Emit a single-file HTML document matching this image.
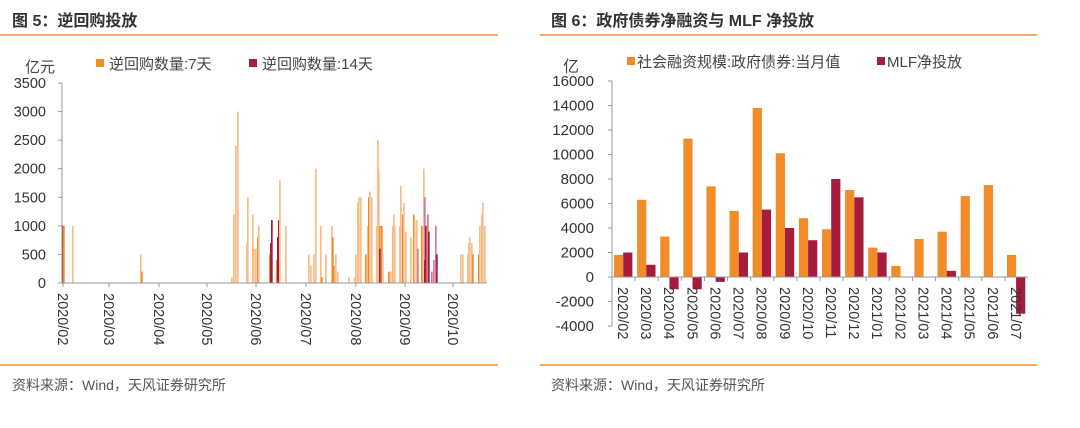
<!DOCTYPE html>
<html><head><meta charset="utf-8"><style>
body{margin:0;background:#fff;width:1080px;height:423px;overflow:hidden}
svg text{font-family:"Liberation Sans","Noto Sans CJK SC",sans-serif}
</style></head><body>
<svg id="s" width="1080" height="423" xmlns="http://www.w3.org/2000/svg">
<text x="12" y="26" font-size="16" font-weight="bold" fill="#333">图 5：逆回购投放</text>
<text x="551" y="26" font-size="16" font-weight="bold" fill="#333">图 6：政府债券净融资与 MLF 净投放</text>
<line x1="0" y1="35" x2="498" y2="35" stroke="#f28c28" stroke-width="1.5"/>
<line x1="540" y1="35" x2="1037" y2="35" stroke="#f28c28" stroke-width="1.5"/>
<line x1="0" y1="365" x2="498" y2="365" stroke="#f28c28" stroke-width="1.5"/>
<line x1="540" y1="365" x2="1037" y2="365" stroke="#f28c28" stroke-width="1.5"/>
<text x="12" y="390" font-size="14" fill="#555">资料来源：Wind，天风证券研究所</text>
<text x="551" y="390" font-size="14" fill="#555">资料来源：Wind，天风证券研究所</text>
<text x="25" y="72" font-size="15" fill="#444">亿元</text>
<rect x="96" y="59" width="8" height="8" fill="#f28c28"/>
<text x="109" y="69" font-size="15" fill="#444">逆回购数量:7天</text>
<rect x="249" y="59" width="8" height="8" fill="#a51c3c"/>
<text x="262" y="69" font-size="15" fill="#444">逆回购数量:14天</text>
<text x="563" y="72" font-size="16" fill="#444">亿</text>
<rect x="627" y="57" width="8" height="8" fill="#f28c28"/>
<text x="637" y="67" font-size="15" fill="#444">社会融资规模:政府债券:当月值</text>
<rect x="877" y="57" width="8" height="8" fill="#a51c3c"/>
<text x="887" y="67" font-size="15" fill="#444">MLF净投放</text>
<g id="L"></g><g id="R"></g>
</svg>
<script>
const ns="http://www.w3.org/2000/svg";
function el(p,t,a,txt){const e=document.createElementNS(ns,t);for(const k in a)e.setAttribute(k,a[k]);if(txt!==undefined)e.textContent=txt;p.appendChild(e);return e;}
const L=document.getElementById('L'),R=document.getElementById('R');
const y0=283,sc=200/3500;
for(let v=0;v<=3500;v+=500){const y=y0-v*sc;el(L,'text',{x:46,y:y+5,'font-size':14.5,fill:'#333','text-anchor':'end'},v);el(L,'line',{x1:58,x2:62,y1:y,y2:y,stroke:'#999'});}
const bars=[[62,1000,'r'],[63,1000,'o'],[72,1000,'l'],[140,500,'l'],[141,200,'o'],[231,100,'l'],[233,1200,'l'],[235,2400,'l'],[237,3000,'l'],[246,700,'l'],[247,1500,'l'],[252,1200,'l'],[253,600,'l'],[255,600,'l'],[257,800,'o'],[258,1000,'l'],[269,500,'o'],[270,700,'r'],[271,1100,'r'],[276,400,'o'],[277,800,'r'],[278,1100,'r'],[279,1800,'l'],[285,1000,'l'],[308,500,'l'],[310,300,'l'],[313,500,'l'],[315,2000,'l'],[320,1000,'l'],[321,100,'o'],[325,500,'l'],[331,1000,'l'],[332,800,'o'],[333,300,'o'],[335,500,'l'],[337,200,'l'],[348,100,'l'],[354,100,'l'],[355,500,'l'],[357,1400,'l'],[358,1500,'l'],[360,1500,'l'],[365,500,'o'],[367,1000,'l'],[368,1500,'o'],[369,1600,'l'],[371,1500,'l'],[376,1000,'l'],[377,2500,'l'],[378,2000,'l'],[379,1000,'o'],[379,600,'r'],[381,1000,'o'],[382,500,'l'],[388,200,'o'],[390,200,'l'],[392,1000,'l'],[393,1200,'l'],[394,1000,'l'],[399,1000,'l'],[400,1700,'l'],[402,1200,'o'],[403,1400,'l'],[405,900,'l'],[410,800,'l'],[413,1200,'o'],[414,1100,'l'],[416,1100,'l'],[417,600,'p'],[421,1000,'o'],[423,2000,'l'],[424,1500,'p'],[424,400,'r'],[425,1000,'r'],[427,1200,'p'],[428,900,'r'],[431,200,'p'],[433,400,'p'],[435,1000,'p'],[436,500,'r'],[460,500,'l'],[462,500,'l'],[467,500,'l'],[468,700,'l'],[469,800,'l'],[471,700,'l'],[472,500,'o'],[478,500,'o'],[479,1000,'l'],[481,1200,'l'],[482,1400,'l'],[484,1000,'l']];
const col={l:'#f9bd8c',o:'#f28c28',r:'#a51c3c',p:'#d27b95'};
bars.forEach(b=>el(L,'rect',{x:b[0],y:y0-b[1]*sc,width:1.7,height:b[1]*sc,fill:col[b[2]]}));
el(L,'line',{x1:62,x2:62,y1:83,y2:283,stroke:'#999'});
el(L,'line',{x1:62,x2:487,y1:283,y2:283,stroke:'#999'});
const mx=[63,109,159,207,256,306,356,405,453],ml=['2020/02','2020/03','2020/04','2020/05','2020/06','2020/07','2020/08','2020/09','2020/10'];
mx.forEach((x,i)=>{el(L,'line',{x1:x,x2:x,y1:283,y2:287,stroke:'#999'});el(L,'text',{x:0,y:0,'font-size':14.5,fill:'#333',transform:`translate(${x-5},293) rotate(90)`},ml[i]);});
const ry0=277,rs=49/4000,xl=612,xr=1028,cw=(xr-xl)/18;
for(let v=-4000;v<=16000;v+=2000){const y=ry0-v*rs;el(R,'text',{x:594,y:y+5,'font-size':15,fill:'#333','text-anchor':'end'},v);el(R,'line',{x1:608,x2:612,y1:y,y2:y,stroke:'#999'});}
const o=[1800,6300,3300,11300,7400,5400,13800,10100,4800,3900,7100,2400,900,3100,3700,6600,7500,1800];
const r=[2000,1000,-1000,-1000,-400,2000,5500,4000,3000,8000,6500,2000,0,0,500,0,0,-3000];
const rl=['2020/02','2020/03','2020/04','2020/05','2020/06','2020/07','2020/08','2020/09','2020/10','2020/11','2020/12','2021/01','2021/02','2021/03','2021/04','2021/05','2021/06','2021/07'];
for(let i=0;i<18;i++){const x=xl+i*cw;
el(R,'rect',{x:x+2,y:ry0-o[i]*rs,width:9.2,height:o[i]*rs,fill:'#f28c28'});
const h=r[i]*rs;if(r[i]){el(R,'rect',{x:x+11.2,y:h>0?ry0-h:ry0,width:9.2,height:Math.abs(h),fill:'#a51c3c'});}
el(R,'line',{x1:x,x2:x,y1:ry0,y2:ry0+4,stroke:'#999'});
el(R,'text',{x:0,y:0,'font-size':14.5,fill:'#333',transform:`translate(${x+6},287) rotate(90)`},rl[i]);}
el(R,'line',{x1:xl,x2:xl,y1:81,y2:326,stroke:'#999'});
el(R,'line',{x1:xl,x2:xr,y1:ry0,y2:ry0,stroke:'#999'});
</script>
</body></html>
